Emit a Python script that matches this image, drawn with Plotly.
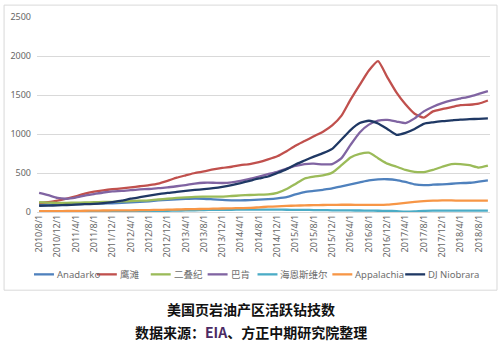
import pandas as pd
import plotly.graph_objects as go

# Monthly observations, sampled every two months (2010/8 .. 2018/10)
dates = pd.date_range("2010-08-01", periods=50, freq="2MS")

series_names = ["Anadarko", "鹰滩", "二叠纪", "巴肯", "海恩斯维尔", "Appalachia", "DJ Niobrara"]
series_colors = ["#4F81BD", "#C0504D", "#9BBB59", "#8064A2", "#4BACC6", "#F79646", "#1F3864"]

anadarko = [95, 93, 92, 95, 100, 103, 105, 108, 112, 118, 125, 130, 138, 148, 155, 162, 168,
            172, 170, 162, 155, 150, 150, 152, 158, 165, 175, 190, 225, 255, 270, 285, 302,
            330, 355, 380, 405, 418, 420, 410, 385, 355, 345, 350, 355, 362, 370, 375, 390, 405]
eagle_ford = [115, 125, 145, 170, 200, 235, 260, 278, 292, 303, 315, 330, 345, 365, 400, 440,
              470, 500, 520, 545, 565, 580, 600, 615, 640, 675, 715, 780, 850, 910, 970, 1030,
              1110, 1235, 1440, 1630, 1815, 1935, 1730, 1530, 1380, 1260, 1210, 1290, 1320,
              1345, 1370, 1375, 1390, 1430]
permian = [125, 120, 118, 118, 120, 122, 125, 128, 130, 135, 140, 145, 150, 160, 170, 180, 188,
           195, 196, 196, 198, 205, 212, 218, 222, 225, 245, 295, 360, 430, 455, 470, 505, 600,
           700, 745, 760, 690, 620, 580, 540, 515, 512, 540, 580, 615, 615, 600, 570, 595]
bakken = [245, 215, 180, 170, 185, 210, 230, 250, 265, 270, 280, 290, 295, 305, 315, 330, 345,
          365, 375, 375, 372, 380, 400, 425, 455, 485, 515, 555, 590, 615, 620, 610, 615, 690,
          860, 1020, 1120, 1170, 1180, 1160, 1140, 1200, 1290, 1350, 1395, 1430, 1455, 1480,
          1515, 1550]
haynesville = [8, 8, 8, 8, 8, 8, 8, 8, 8, 8, 8, 8, 8, 10, 15, 18, 20, 22, 25, 27, 28, 29, 30,
               30, 30, 30, 30, 29, 28, 27, 25, 24, 22, 21, 20, 19, 18, 16, 15, 10, 5, 8, 15, 17,
               18, 18, 18, 18, 18, 18]
appalachia = [10, 11, 12, 13, 15, 16, 18, 19, 20, 21, 22, 23, 25, 27, 30, 32, 35, 37, 40, 42,
              45, 47, 50, 52, 60, 68, 72, 78, 82, 85, 88, 90, 92, 93, 93, 92, 92, 92, 95, 105,
              118, 130, 140, 145, 148, 148, 145, 145, 145, 145]
dj_niobrara = [80, 82, 85, 90, 95, 100, 105, 115, 128, 145, 170, 190, 210, 228, 245, 258, 272,
               283, 293, 305, 322, 345, 370, 400, 430, 455, 500, 550, 610, 660, 710, 755, 810,
               930, 1050, 1140, 1170, 1135, 1065, 990, 1015, 1065, 1130, 1150, 1165, 1175, 1185,
               1190, 1195, 1200]

tick_dates = pd.date_range("2010-08-01", "2018-08-01", freq="4MS")
tick_labels = ["2010/8/1", "2010/12/1", "2011/4/1", "2011/8/1", "2011/12/1", "2012/4/1",
               "2012/8/1", "2012/12/1", "2013/4/1", "2013/8/1", "2013/12/1", "2014/4/1",
               "2014/8/1", "2014/12/1", "2015/4/1", "2015/8/1", "2015/12/1", "2016/4/1",
               "2016/8/1", "2016/12/1", "2017/4/1", "2017/8/1", "2017/12/1", "2018/4/1",
               "2018/8/1"]

y_ticks = [0, 500, 1000, 1500, 2000, 2500]

title_text = "美国页岩油产区活跃钻技数"
source_text = "数据来源：<span style='color:#4B2A63'>EIA</span>、方正中期研究院整理"

all_series = [anadarko, eagle_ford, permian, bakken, haynesville, appalachia, dj_niobrara]

W, H = 500, 346
L, R, T, B = 36, 10, 15, 134
plot_w = W - L - R
plot_h = H - T - B


def px_x(px):
    return (px - L) / plot_w


def px_y(py):
    return (H - B - py) / plot_h


fig = go.Figure()
for name, color, values in zip(series_names, series_colors, all_series):
    fig.add_trace(go.Scatter(
        x=dates, y=values, name=name, mode="lines",
        line=dict(color=color, width=2.3, shape="spline", smoothing=0.5),
        showlegend=False,
    ))

# outer chart frame
fig.add_shape(type="rect", xref="paper", yref="paper",
              x0=px_x(3), x1=px_x(497), y0=px_y(291), y1=px_y(3),
              line=dict(color="#D9D9D9", width=1), fillcolor="rgba(0,0,0,0)", layer="below")

# legend row along the bottom of the frame
legend_line_x = [33, 96, 150, 207, 257, 332, 405]
legend_y = px_y(275)
for name, color, lx in zip(series_names, series_colors, legend_line_x):
    fig.add_shape(type="line", xref="paper", yref="paper",
                  x0=px_x(lx), x1=px_x(lx + 20), y0=legend_y, y1=legend_y,
                  line=dict(color=color, width=2.3))
    fig.add_annotation(xref="paper", yref="paper", x=px_x(lx + 21), y=legend_y,
                       text=name, showarrow=False, xanchor="left", yanchor="middle",
                       font=dict(family="Noto Sans, Noto Sans CJK SC", size=9.5, color="#6E6E6E"))

# caption below the chart
fig.add_annotation(xref="paper", yref="paper", x=px_x(250), y=px_y(310), text=f"<b>{title_text}</b>",
                   showarrow=False, xanchor="center", yanchor="middle",
                   font=dict(family="Noto Sans CJK SC", size=14, color="#111111"))
fig.add_annotation(xref="paper", yref="paper", x=px_x(250), y=px_y(333), text=f"<b>{source_text}</b>",
                   showarrow=False, xanchor="center", yanchor="middle",
                   font=dict(family="Noto Sans CJK SC", size=14, color="#111111"))

fig.update_layout(
    width=W, height=H,
    margin=dict(l=L, r=R, t=T, b=B),
    paper_bgcolor="white", plot_bgcolor="white",
    showlegend=False,
    xaxis=dict(
        type="date", range=["2010-07-18", "2018-10-15"],
        tickmode="array", tickvals=tick_dates, ticktext=tick_labels,
        tickangle=-90, showgrid=False, zeroline=False, showline=False, ticks="",
        tickfont=dict(family="Noto Sans", size=9, color="#666666"),
    ),
    yaxis=dict(
        range=[0, 2500], tickmode="array", tickvals=y_ticks,
        showgrid=True, gridcolor="#D9D9D9", gridwidth=1,
        zeroline=True, zerolinecolor="#D9D9D9", zerolinewidth=1,
        showline=False, ticks="", ticklabelstandoff=5,
        tickfont=dict(family="Noto Sans", size=9, color="#666666"),
    ),
)

fig.write_html("out.html")
